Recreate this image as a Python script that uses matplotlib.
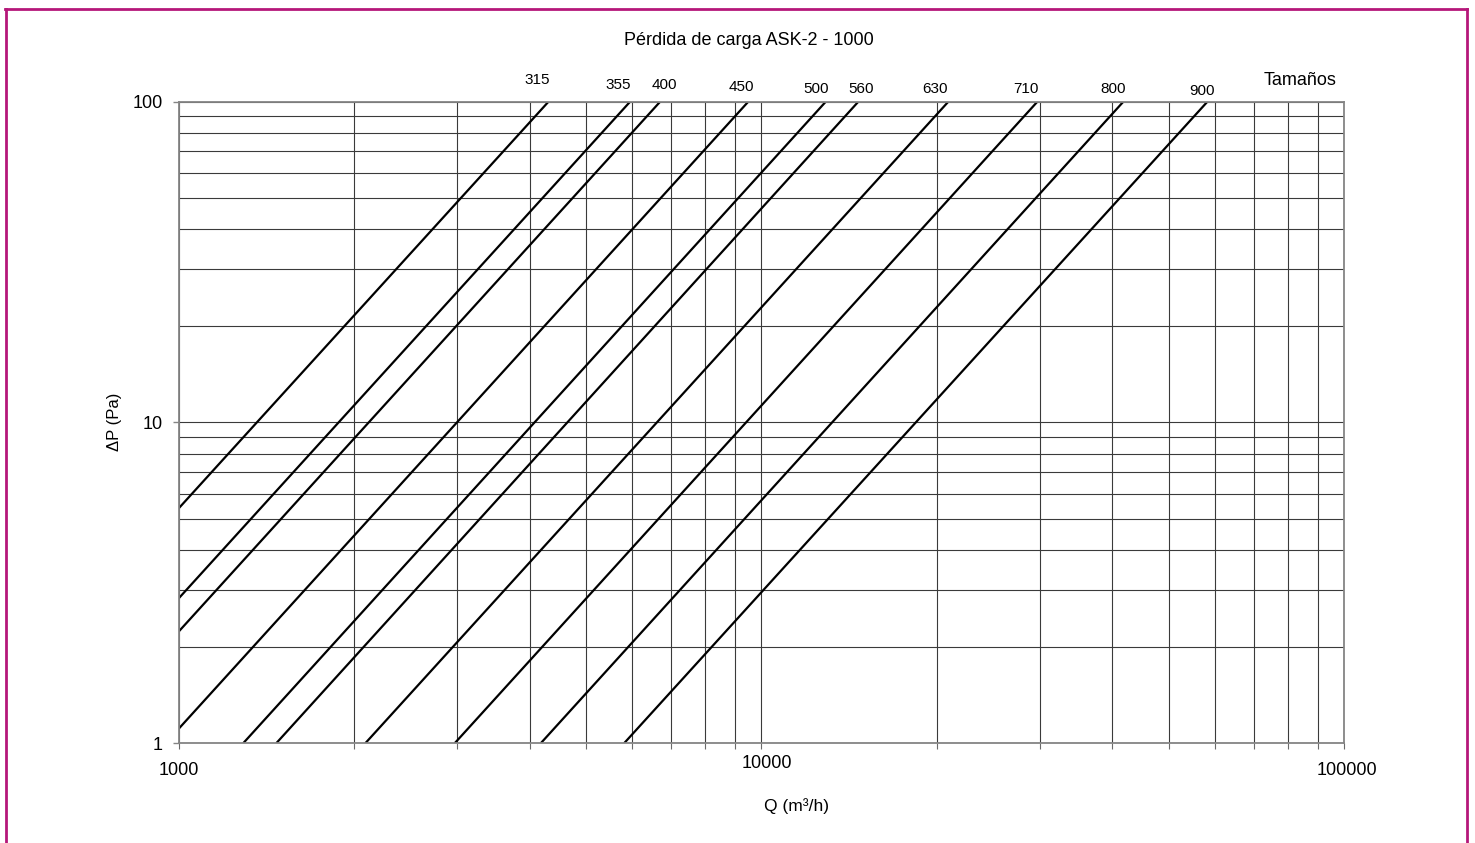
import matplotlib
matplotlib.use("Agg")
import matplotlib.pyplot as plt
from matplotlib.lines import Line2D
from matplotlib.ticker import FixedLocator, NullFormatter

plt.rcParams['font.family'] = ['Liberation Sans', 'DejaVu Sans']

# Pressure-drop curves per nominal size: straight segments on log-log axes
sizes = ["315", "355", "400", "450", "500", "560", "630", "710", "800", "900"]
q_start = [1000, 1000, 1000, 1000, 1290, 1470, 2090, 2975, 4180, 5810]
dp_start = [5.4, 2.83, 2.23, 1.11, 1.0, 1.0, 1.0, 1.0, 1.0, 1.0]
q_end = [4310, 5950, 6700, 9490, 12890, 14660, 20920, 29740, 41770, 58220]
dp_end = [100, 100, 100, 100, 100, 100, 100, 100, 100, 100]

x_ticks = [1000, 10000, 100000]
x_tick_labels = ["1000", "10000", "100000"]
y_ticks = [1, 10, 100]
y_tick_labels = ["1", "10", "100"]

title = "Pérdida de carga ASK-2 - 1000"
x_label = "Q (m³/h)"
y_label = "ΔP (Pa)"
legend_title = "Tamaños"

W, H = 1475, 843
fig = plt.figure(figsize=(W / 100, H / 100), dpi=100)
fig.patch.set_facecolor("white")

ax_l, ax_r, ax_t, ax_b = 178.7, 1344.3, 101.7, 743.3
ax = fig.add_axes([ax_l / W, 1 - ax_b / H, (ax_r - ax_l) / W, (ax_b - ax_t) / H])
ax.set_xscale("log")
ax.set_yscale("log")
ax.set_xlim(1000, 100000)
ax.set_ylim(1, 100)

# grid on every decade subdivision
minor = [m * 10 ** e for e in (3, 4) for m in range(2, 10)]
minor_y = [m * 10 ** e for e in (0, 1) for m in range(2, 10)]
ax.xaxis.set_major_locator(FixedLocator(x_ticks))
ax.xaxis.set_minor_locator(FixedLocator(minor))
ax.yaxis.set_major_locator(FixedLocator(y_ticks))
ax.yaxis.set_minor_locator(FixedLocator(minor_y))
ax.xaxis.set_major_formatter(NullFormatter())
ax.xaxis.set_minor_formatter(NullFormatter())
ax.yaxis.set_minor_formatter(NullFormatter())
ax.set_yticklabels(y_tick_labels)

ax.grid(True, which="both", color="#3a3a3a", linewidth=0.8)
ax.set_axisbelow(True)
for sp in ax.spines.values():
    sp.set_color("#858585")
    sp.set_linewidth(1.3)

ax.tick_params(axis="x", which="both", direction="out", length=4.3,
               width=0.8, color="#6a6a6a")
ax.tick_params(axis="y", which="major", direction="out", length=4.3,
               width=1.0, color="#858585", labelsize=13, pad=7)
ax.tick_params(axis="y", which="minor", length=0)

# x tick labels, each with its own placement below the axis
x_label_offsets = [(0, -27), (5, -20), (3, -27)]
for val, txt, (dx, dy) in zip(x_ticks, x_tick_labels, x_label_offsets):
    ax.annotate(txt, xy=(val, 0), xycoords=ax.get_xaxis_transform(),
                xytext=(dx, dy), textcoords="offset pixels",
                ha="center", va="center", fontsize=13, annotation_clip=False)

# curves
for qs, ds, qe, de in zip(q_start, dp_start, q_end, dp_end):
    ax.plot([qs, qe], [ds, de], color="black", linewidth=1.6,
            solid_capstyle="butt")

# size labels above the upper end of each curve
label_offsets = [(-11.6, 21.7), (-12, 17), (3.8, 16.4), (-6.8, 14.2),
                 (-9.9, 12.2), (2.5, 12.2), (-13.8, 12.2), (-11.5, 12.2),
                 (-10, 12.2), (-5.6, 10.4)]
for name, qe, de, (dx, dy) in zip(sizes, q_end, dp_end, label_offsets):
    ax.annotate(name, xy=(qe, de), xytext=(dx, dy), textcoords="offset pixels",
                ha="center", va="center", fontsize=11, annotation_clip=False)

ax.text((1299.7 - ax_l) / (ax_r - ax_l), 1 + 21.2 / (ax_b - ax_t), legend_title,
        transform=ax.transAxes, ha="center", va="center", fontsize=13)

fig.text(749 / W, 1 - 40.5 / H, title, ha="center", va="center", fontsize=13)
fig.text(797 / W, 1 - 806 / H, x_label, ha="center", va="center", fontsize=12.5)
fig.text(114 / W, 1 - 422 / H, y_label, ha="center", va="center",
         fontsize=12, rotation=90)

# page frame
frame = "#b5177a"
fig.add_artist(Line2D([5.5 / W, 5.5 / W], [0, 1 - 9 / H], color=frame,
                      linewidth=2.0, transform=fig.transFigure))
fig.add_artist(Line2D([4.8 / W, 1467.2 / W], [1 - 9 / H, 1 - 9 / H], color=frame,
                      linewidth=2.0, transform=fig.transFigure))
fig.add_artist(Line2D([1466.5 / W, 1466.5 / W], [0, 1 - 9 / H], color=frame,
                      linewidth=2.0, transform=fig.transFigure))

fig.savefig("out.png", dpi=100)
